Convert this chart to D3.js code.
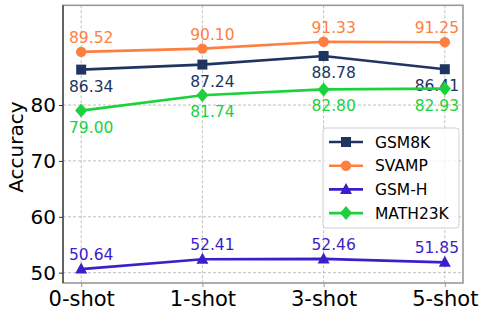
<!DOCTYPE html>
<html>
<head>
<meta charset="utf-8">
<style>
  body { margin: 0; background: #fff; }
  text { font-family: "DejaVu Sans", sans-serif; }
</style>
</head>
<body>
<script src="https://cdn.jsdelivr.net/npm/d3@7"></script>
<script>
var categories = ["0-shot", "1-shot", "3-shot", "5-shot"];
var gsm8k = [86.34, 87.24, 88.78, 86.41];
var svamp = [89.52, 90.10, 91.33, 91.25];
var gsmH = [50.64, 52.41, 52.46, 51.85];
var math23k = [79.00, 81.74, 82.80, 82.93];
var yTicks = [50, 60, 70, 80];

var series = [
  { name: "GSM8K", values: gsm8k, color: "#203462", marker: "square", below: true },
  { name: "SVAMP", values: svamp, color: "#ff7f41", marker: "circle", below: false },
  { name: "GSM-H", values: gsmH, color: "#3a1fcb", marker: "triangle", below: false },
  { name: "MATH23K", values: math23k, color: "#1bd23c", marker: "diamond", below: true }
];

var width = 486, height = 317;
var pLeft = 63, pRight = 463, pTop = 5.3, pBottom = 283;

var svg = d3.select("body").append("svg")
  .attr("width", width)
  .attr("height", height);

var x = d3.scaleLinear().domain([-0.15, 3.15]).range([pLeft, pRight]);
var y = d3.scaleLinear().domain([48.15, 97.85]).range([pBottom, pTop]);

// grid
svg.append("g").selectAll("line").data(yTicks).join("line")
  .attr("x1", pLeft).attr("x2", pRight)
  .attr("y1", function(d) { return y(d); }).attr("y2", function(d) { return y(d); })
  .attr("stroke", "#b0b0b0").attr("stroke-width", 0.8).attr("stroke-dasharray", "3,2");
svg.append("g").selectAll("line").data(categories).join("line")
  .attr("x1", function(d, i) { return x(i); }).attr("x2", function(d, i) { return x(i); })
  .attr("y1", pTop).attr("y2", pBottom)
  .attr("stroke", "#b0b0b0").attr("stroke-width", 0.8).attr("stroke-dasharray", "3,2");

// spines
svg.append("rect")
  .attr("x", pLeft).attr("y", pTop)
  .attr("width", pRight - pLeft).attr("height", pBottom - pTop)
  .attr("fill", "none").attr("stroke", "#999").attr("stroke-width", 1.6);
svg.append("line")
  .attr("x1", pLeft).attr("x2", pLeft).attr("y1", pTop).attr("y2", pBottom)
  .attr("stroke", "#333").attr("stroke-width", 1.2);

// axes
var yAxis = d3.axisLeft(y).tickValues(yTicks).tickSize(4).tickPadding(3);
var gy = svg.append("g").attr("transform", "translate(" + pLeft + ",0)").call(yAxis);
gy.select(".domain").remove();
gy.selectAll("text").attr("font-size", 20).attr("fill", "#000");
gy.selectAll("line").attr("stroke", "#333");

var xAxis = d3.axisBottom(x).tickValues([0, 1, 2, 3])
  .tickFormat(function(d) { return categories[d]; }).tickSize(4).tickPadding(4);
var gx = svg.append("g").attr("transform", "translate(0," + pBottom + ")").call(xAxis);
gx.select(".domain").remove();
gx.selectAll("text").attr("font-size", 21).attr("fill", "#000");
gx.selectAll("line").attr("stroke", "#999");

svg.append("text")
  .attr("transform", "translate(23," + ((pTop + pBottom) / 2 + 3) + ") rotate(-90)")
  .attr("text-anchor", "middle")
  .attr("font-size", 20)
  .text("Accuracy");

function drawMarker(g, type, cx, cy, color) {
  if (type === "square") {
    g.append("rect").attr("x", cx - 5).attr("y", cy - 5).attr("width", 10).attr("height", 10).attr("fill", color);
  } else if (type === "circle") {
    g.append("circle").attr("cx", cx).attr("cy", cy).attr("r", 5.2).attr("fill", color);
  } else if (type === "triangle") {
    g.append("path").attr("d", "M" + cx + "," + (cy - 6.5) + "L" + (cx + 6) + "," + (cy + 4.5) + "L" + (cx - 6) + "," + (cy + 4.5) + "Z").attr("fill", color);
  } else {
    g.append("path").attr("d", "M" + cx + "," + (cy - 7) + "L" + (cx + 6) + "," + cy + "L" + cx + "," + (cy + 7) + "L" + (cx - 6) + "," + cy + "Z").attr("fill", color);
  }
}

var line = d3.line().x(function(d, i) { return x(i); }).y(function(d) { return y(d); });

series.forEach(function(s) {
  var g = svg.append("g");
  g.append("path").datum(s.values).attr("d", line)
    .attr("fill", "none").attr("stroke", s.color).attr("stroke-width", 2.6);
  s.values.forEach(function(v, i) {
    drawMarker(g, s.marker, x(i), y(v), s.color);
  });
  g.selectAll("text").data(s.values).join("text")
    .attr("x", function(d, i) { return x(i) + (i === 3 ? -8 : 10); })
    .attr("y", function(d) { return y(d) + (s.below ? 22 : -9); })
    .attr("text-anchor", "middle")
    .attr("font-size", 15.5)
    .attr("fill", s.color)
    .text(function(d) { return d.toFixed(2); });
});

// legend
var lg = svg.append("g");
lg.append("rect")
  .attr("x", 323).attr("y", 128).attr("width", 136).attr("height", 100)
  .attr("rx", 3).attr("fill", "#fff").attr("fill-opacity", 0.8)
  .attr("stroke", "#d0d0d0").attr("stroke-width", 1);
series.forEach(function(s, i) {
  var ly = 142 + i * 23.7;
  lg.append("line").attr("x1", 329).attr("x2", 363).attr("y1", ly).attr("y2", ly)
    .attr("stroke", s.color).attr("stroke-width", 2.6);
  drawMarker(lg, s.marker, 346, ly, s.color);
  lg.append("text").attr("x", 375).attr("y", ly + 5.5)
    .attr("font-size", 15.5).attr("fill", "#000").text(s.name);
});
</script>
</body>
</html>
